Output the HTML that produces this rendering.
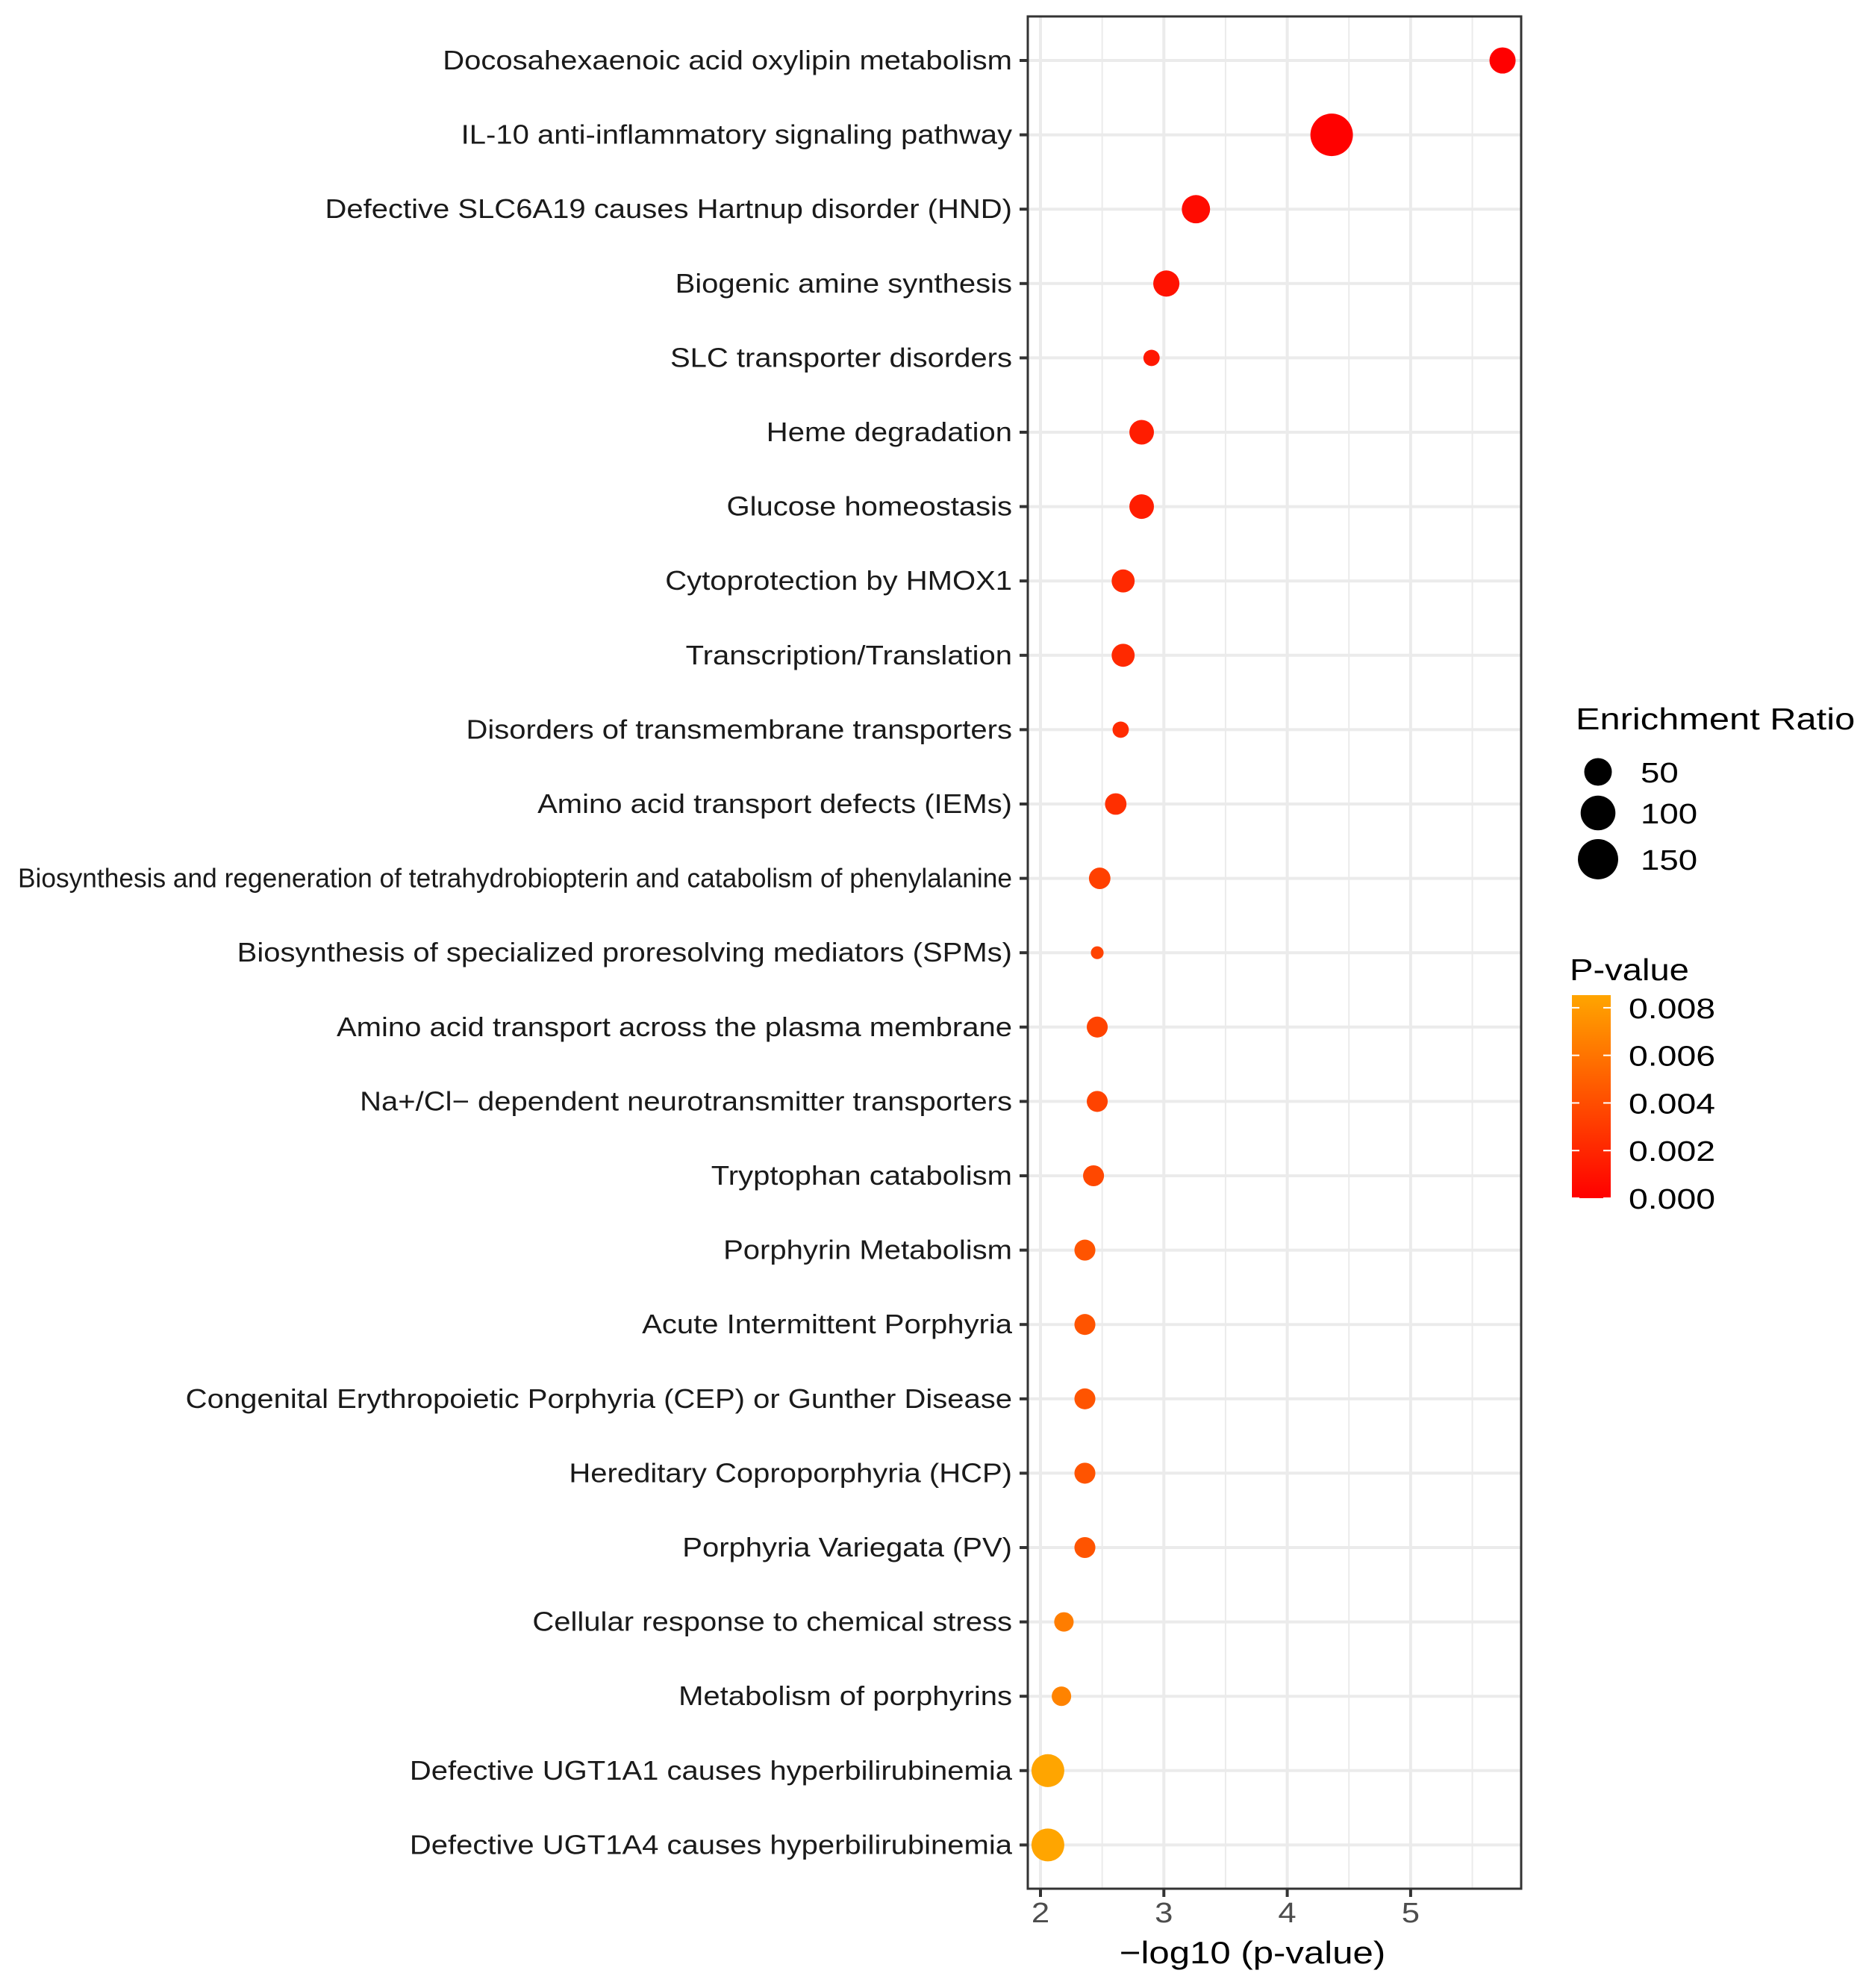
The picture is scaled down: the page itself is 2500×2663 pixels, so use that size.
<!DOCTYPE html>
<html><head><meta charset="utf-8"><style>
html,body{margin:0;padding:0;background:#fff;}
svg{display:block;font-family:"Liberation Sans",Arial,sans-serif;}
</style></head><body>
<svg id="chart" width="2500" height="2663" viewBox="0 0 2500 2663" xmlns="http://www.w3.org/2000/svg">
<defs><linearGradient id="pgrad" x1="0" y1="1" x2="0" y2="0">
<stop offset="0" stop-color="#FF0000"/><stop offset="1" stop-color="#FFA500"/></linearGradient></defs>
<g id="grid"></g><g id="points"></g><g id="axes"></g><g id="legend"></g>
</svg>
<script>
const categories = [
"Docosahexaenoic acid oxylipin metabolism","IL-10 anti-inflammatory signaling pathway","Defective SLC6A19 causes Hartnup disorder (HND)","Biogenic amine synthesis","SLC transporter disorders","Heme degradation","Glucose homeostasis","Cytoprotection by HMOX1","Transcription/Translation","Disorders of transmembrane transporters","Amino acid transport defects (IEMs)","Biosynthesis and regeneration of tetrahydrobiopterin and catabolism of phenylalanine","Biosynthesis of specialized proresolving mediators (SPMs)","Amino acid transport across the plasma membrane","Na+/Cl\u2212 dependent neurotransmitter transporters","Tryptophan catabolism","Porphyrin Metabolism","Acute Intermittent Porphyria","Congenital Erythropoietic Porphyria (CEP) or Gunther Disease","Hereditary Coproporphyria (HCP)","Porphyria Variegata (PV)","Cellular response to chemical stress","Metabolism of porphyrins","Defective UGT1A1 causes hyperbilirubinemia","Defective UGT1A4 causes hyperbilirubinemia"];
const negLogP = [5.745,4.36,3.26,3.02,2.90,2.82,2.82,2.67,2.67,2.65,2.61,2.48,2.46,2.46,2.46,2.43,2.36,2.36,2.36,2.36,2.36,2.19,2.17,2.06,2.06];
const enrichment = [42,173,54,42,6,34,34,27,27,6,21,21,1,19,19,19,19,19,19,19,19,14,14,85,85];
const xTicks = [2,3,4,5];
const sizeBreaks = [50,100,150];
const pTicks = ["0.000","0.002","0.004","0.006","0.008"];

const NS="http://www.w3.org/2000/svg";
const L=1377,R=2038,T=22,B=2530;
const xs=v=>1394+(v-2)*165.3;
const ys=i=>81+i*99.6;
const diam=er=>3.28*Math.sqrt(er)+13.8;
function pcol(p){const t=Math.min(1,Math.max(0,p/0.00853));return `rgb(255,${Math.round(165*t)},0)`;}
function mk(tag,attrs,parent,text){const e=document.createElementNS(NS,tag);for(const k in attrs)e.setAttribute(k,attrs[k]);if(text!==undefined)e.textContent=text;parent.appendChild(e);return e;}
function stretch(t,f){const w=t.getComputedTextLength();t.setAttribute('textLength',(w*f).toFixed(1));t.setAttribute('lengthAdjust','spacingAndGlyphs');}
const grid=document.getElementById('grid'),pts=document.getElementById('points'),axes=document.getElementById('axes'),leg=document.getElementById('legend');

mk('rect',{x:L,y:T,width:R-L,height:B-T,fill:'#fff'},grid);
for(let v=2.5;v<=5.5;v+=1){const g=mk('line',{x1:xs(v),x2:xs(v),y1:T,y2:B,stroke:'#EBEBEB','stroke-width':2},grid);

}
xTicks.forEach(v=>{const g=mk('line',{x1:xs(v),x2:xs(v),y1:T,y2:B,stroke:'#EBEBEB','stroke-width':4},grid);

});
categories.forEach((c,i)=>{const g=mk('line',{x1:L,x2:R,y1:ys(i),y2:ys(i),stroke:'#EBEBEB','stroke-width':4},grid);

});

categories.forEach((c,i)=>{
const p=Math.pow(10,-negLogP[i]);
const d=mk('circle',{cx:xs(negLogP[i]),cy:ys(i),r:diam(enrichment[i])/2,fill:pcol(p)},pts);


const tk=mk('line',{x1:1366,x2:L,y1:ys(i),y2:ys(i),stroke:'#333','stroke-width':4},axes);


const t=mk('text',{x:1356,y:ys(i)+12,'text-anchor':'end','font-size':36,fill:'#1a1a1a'},axes,c);


if(c.length>70){t.setAttribute('textLength',1332);t.setAttribute('lengthAdjust','spacingAndGlyphs');}
else stretch(t,1.143*35/36);
});
const border=mk('rect',{x:L,y:T,width:R-L,height:B-T,fill:'none',stroke:'#333','stroke-width':3},axes);


xTicks.forEach(v=>{
const tk=mk('line',{x1:xs(v),x2:xs(v),y1:B,y2:B+11,stroke:'#333','stroke-width':4},axes);


const t=mk('text',{x:xs(v),y:2575,'text-anchor':'middle','font-size':38,fill:'#4D4D4D'},axes,String(v));


stretch(t,1.15);
});
const xt=mk('text',{x:1678,y:2630,'text-anchor':'middle','font-size':42,fill:'#000'},axes,'\u2212log10 (p-value)');


stretch(xt,1.17);

const st=mk('text',{x:2111,y:977,'font-size':41,fill:'#000'},leg,'Enrichment Ratio');


stretch(st,1.19);
const legY=[1034,1089,1151];
sizeBreaks.forEach((s,i)=>{
const c=mk('circle',{cx:2141,cy:legY[i],r:diam(s)/2,fill:'#000'},leg);


const t=mk('text',{x:2198,y:legY[i]+14,'font-size':38,fill:'#000'},leg,String(s));


stretch(t,1.2);
});
const pt=mk('text',{x:2103,y:1313,'font-size':41,fill:'#000'},leg,'P-value');


stretch(pt,1.15);
const cb0=1605,cbTop=1333,pmax=0.00853;
const cb=mk('rect',{x:2106,y:cbTop,width:52,height:cb0-cbTop,fill:'url(#pgrad)'},leg);


pTicks.forEach(s=>{
const y=cb0-(parseFloat(s)/pmax)*(cb0-cbTop);
mk('line',{x1:2106,x2:2116,y1:y,y2:y,stroke:'#fff','stroke-width':2},leg);
mk('line',{x1:2148,x2:2158,y1:y,y2:y,stroke:'#fff','stroke-width':2},leg);
const t=mk('text',{x:2182,y:y+14,'font-size':38,fill:'#000'},leg,s);


stretch(t,1.22);
});
</script>
</body></html>
